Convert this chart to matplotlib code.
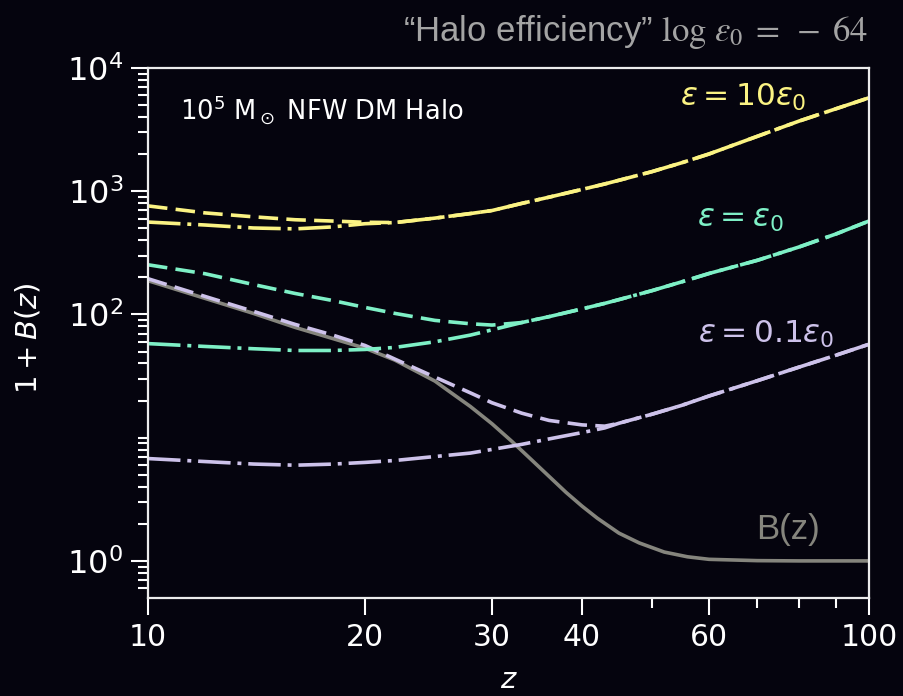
import numpy as np
import matplotlib
matplotlib.use("Agg")
import matplotlib.pyplot as plt

# redshift grid shared by the efficiency curves
z = [10, 12, 14, 16, 18, 20, 22, 25, 28, 30, 33, 36, 40, 43, 45, 50, 55, 60, 70, 80, 90, 100]

# 1 + B(z) for the three efficiencies: dashed and dash-dot model variants
eps10_dash = [760, 667, 620, 587, 573, 560, 557, 605, 659, 697, 797, 895, 1035, 1145, 1227,
              1442, 1703, 2006, 2790, 3710, 4670, 5730]
eps10_dashdot = [562, 532, 503, 495, 513, 545, 557, 605, 659, 697, 797, 895, 1035, 1145, 1227,
                 1442, 1703, 2006, 2790, 3710, 4670, 5730]

eps1_dash = [253, 214, 175, 148, 130, 114, 102, 89.5, 84, 82, 86, 96, 111, 123, 132,
             156, 184, 215, 275, 353, 450, 573]
eps1_dashdot = [58, 55, 52.7, 51, 51, 52, 54, 60, 68, 75, 86, 96, 111, 123, 132,
                156, 184, 215, 275, 353, 450, 573]

eps01_dash = [195, 140, 106, 83, 68.3, 56, 43.4, 31, 23.1, 19.2, 15.8, 13.8, 12.7, 12.4, 13.1,
              15.5, 18.3, 21.8, 29.0, 37.4, 46.7, 57.3]
eps01_dashdot = [6.77, 6.40, 6.11, 5.98, 6.10, 6.30, 6.53, 7.03, 7.5, 8.03, 8.83, 9.77, 11.0, 12.0, 13.1,
                 15.5, 18.3, 21.8, 29.0, 37.4, 46.7, 57.3]

# boost factor of the bare halo
z_b = [10, 12, 14, 16, 18, 20, 22, 25, 26, 28, 30, 32, 34, 36, 38, 40, 42, 45, 48, 52, 56, 60, 70, 80, 100]
boost = [188, 135, 102, 78.5, 64, 53.2, 42.6, 28.8, 24.4, 17.9, 12.97, 9.28, 6.65, 4.85, 3.60, 2.78, 2.22,
         1.68, 1.40, 1.18, 1.08, 1.03, 1.005, 1.0, 1.0]

bg = "#05040e"
yellow = "#fbf383"
teal = "#7ef0c6"
lavender = "#cdc2ea"
grey = "#85857d"

W, H = 904, 696
fig = plt.figure(figsize=(W / 100, H / 100), dpi=100)
fig.patch.set_facecolor(bg)
ax = fig.add_axes([148 / W, 1 - 598 / H, 721 / W, 530 / H])
ax.set_facecolor(bg)
ax.set_xscale("log")
ax.set_yscale("log")

lw = 2.6
dash = (5.4, 2.3)
dashdot = (9.0, 1.9, 1.1, 1.9)

ax.plot(z_b, boost, color=grey, lw=2.6)
for col, yd, ydd in [(lavender, eps01_dash, eps01_dashdot),
                     (teal, eps1_dash, eps1_dashdot),
                     (yellow, eps10_dash, eps10_dashdot)]:
    ax.plot(z, ydd, color=col, lw=lw, dashes=dashdot)
    ax.plot(z, yd, color=col, lw=lw, dashes=dash)

ax.set_xlim(10, 100)
ax.set_ylim(0.5, 1e4)

ax.set_xticks([10, 20, 30, 40, 60, 100], labels=["10", "20", "30", "40", "60", "100"])
ax.set_xticks([50, 70, 80, 90], labels=[""] * 4, minor=True)
ax.set_yticks([1, 1e2, 1e3, 1e4], labels=[r"$10^0$", r"$10^2$", r"$10^3$", r"$10^4$"])
yminor = [0.6, 0.7, 0.8, 0.9] + [m * 10.0 ** e for e in range(0, 4) for m in range(2, 10)] + [10]
ax.set_yticks(yminor, labels=[""] * len(yminor), minor=True)

ax.tick_params(which="both", direction="out", colors="white", width=1.5)
ax.tick_params(which="major", length=12)
ax.tick_params(which="minor", length=7)
ax.tick_params(axis="x", pad=6, labelsize=21.5)
ax.tick_params(axis="y", pad=6, labelsize=23)
for sp in ax.spines.values():
    sp.set_color("#ececec")
    sp.set_linewidth(1.6)

ax.set_xlabel(r"$z$", color="white", fontsize=21, labelpad=10)
ax.set_ylabel(r"$1 + B(z)$", color="white", fontsize=21)
ax.yaxis.set_label_coords(-0.146, 0.49)

ax.text(0.045, 0.92, r"$10^5$ M$_\odot$ NFW DM Halo", transform=ax.transAxes,
        color="white", fontsize=18.5, ha="left", va="center")


def label(x, y, s, col, size=22.5, **kw):
    fig.text(x / W, 1 - y / H, s, color=col, fontsize=size, ha="center", va="center", **kw)


label(743, 97, r"$\varepsilon = 10\varepsilon_0$", yellow)
label(740, 220, r"$\varepsilon = \varepsilon_0$", teal)
label(766, 334, r"$\varepsilon = 0.1\varepsilon_0$", lavender)
label(788, 529, "B(z)", grey, size=25, family="Liberation Sans")

fig.text(868 / W, 1 - 32 / H, r"“Halo efficiency” $\log\,\epsilon_0\;=\;-\;64$",
         color="#a4a4a4", fontsize=25, ha="right", va="center",
         family=["Liberation Sans Narrow", "Liberation Sans"], math_fontfamily="stix")

fig.savefig("out.png", dpi=100, facecolor=bg)
